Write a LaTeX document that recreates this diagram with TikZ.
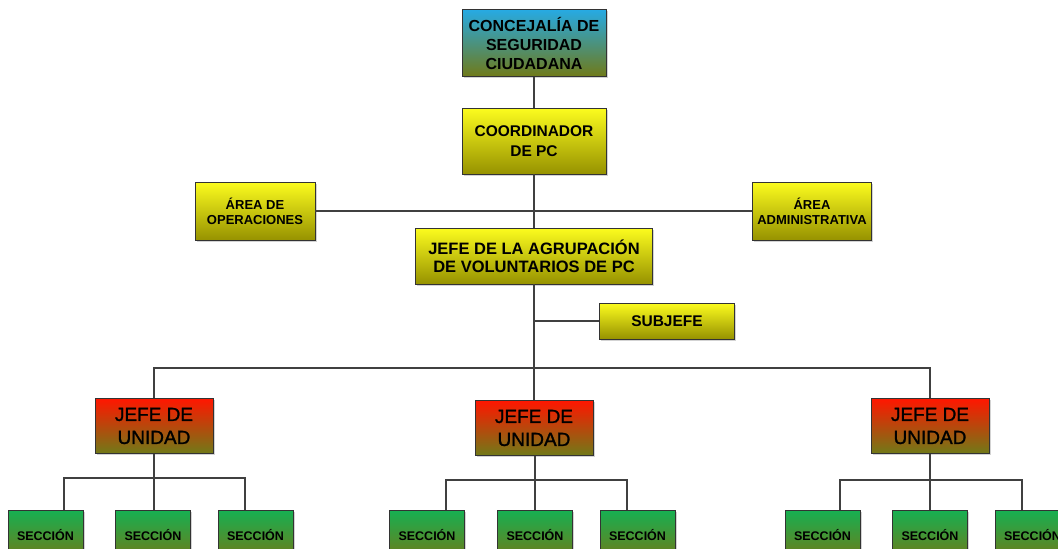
\documentclass[tikz,border=0pt]{standalone}
\usepackage{fontspec}
\setmainfont{Liberation Sans}
\newfontfamily\unitfont[FakeBold=1.3]{Liberation Sans}
\usetikzlibrary{shadows}

\definecolor{skyblue}{RGB}{38,170,228}
\definecolor{olive}{RGB}{112,122,24}
\definecolor{ylwtop}{RGB}{252,252,30}
\definecolor{ylwmid}{RGB}{236,234,0}
\definecolor{ylwbot}{RGB}{150,146,0}
\definecolor{redtop}{RGB}{255,22,0}
\definecolor{grntop}{RGB}{22,176,82}

\tikzset{
  box/.style={draw=black!80,line width=0.8pt,inner sep=2pt,align=center,
    drop shadow={shadow xshift=1.5pt,shadow yshift=-1.5pt,opacity=.35}},
  bluebox/.style={box,top color=skyblue,bottom color=olive},
  ylwbox/.style={box,top color=ylwtop,middle color=ylwmid,bottom color=ylwbot},
  redbox/.style={box,top color=redtop,bottom color=olive,
    minimum width=118pt,minimum height=55pt,font=\unitfont\fontsize{19}{23}\selectfont},
  grnbox/.style={box,top color=grntop,bottom color=olive,
    minimum width=75pt,minimum height=50pt,font=\bfseries\fontsize{12.5}{15}\selectfont},
  link/.style={draw=black!75,line width=1.2pt}
}

\begin{document}
\begin{tikzpicture}[x=1pt,y=-1pt]
  \useasboundingbox (0,0) rectangle (1058,549);

  \node[bluebox,minimum width=144pt,minimum height=67pt,font=\bfseries\fontsize{16}{19}\selectfont]
    (conc) at (534,43) {CONCEJALÍA DE\\SEGURIDAD\\CIUDADANA};
  \node[ylwbox,minimum width=144pt,minimum height=66pt,font=\bfseries\fontsize{15.5}{20}\selectfont]
    (coord) at (534,141) {COORDINADOR\\DE PC};
  \node[ylwbox,minimum width=120pt,minimum height=58pt,font=\bfseries\fontsize{13}{15}\selectfont]
    (oper) at (255,211) {ÁREA DE\\OPERACIONES};
  \node[ylwbox,minimum width=119pt,minimum height=58pt,font=\bfseries\fontsize{13}{15}\selectfont]
    (admin) at (812,211) {ÁREA\\ADMINISTRATIVA};
  \node[ylwbox,minimum width=237pt,minimum height=56pt,font=\bfseries\fontsize{16.5}{18}\selectfont]
    (jefe) at (534,256) {JEFE DE LA AGRUPACIÓN\\DE VOLUNTARIOS DE PC};
  \node[ylwbox,minimum width=135pt,minimum height=36pt,font=\bfseries\fontsize{15.5}{18}\selectfont]
    (subj) at (667,321) {SUBJEFE};

  \coordinate (bus) at (534,368);

  % unidades
  \node[redbox] (u1) at (154,426) {JEFE DE\\UNIDAD};
  \node[redbox] (u2) at (534,428) {JEFE DE\\UNIDAD};
  \node[redbox] (u3) at (930,426) {JEFE DE\\UNIDAD};

  % secciones
  \node[grnbox] (s11) at (45.5,535) {SECCIÓN};
  \node[grnbox] (s12) at (153,535) {SECCIÓN};
  \node[grnbox] (s13) at (255.5,535) {SECCIÓN};
  \node[grnbox] (s21) at (427,535) {SECCIÓN};
  \node[grnbox] (s22) at (535,535) {SECCIÓN};
  \node[grnbox] (s23) at (637.5,535) {SECCIÓN};
  \node[grnbox] (s31) at (822.5,535) {SECCIÓN};
  \node[grnbox] (s32) at (930,535) {SECCIÓN};
  \node[grnbox] (s33) at (1032.5,535) {SECCIÓN};

  \coordinate (b1) at (154,478);
  \coordinate (b2) at (535,480);
  \coordinate (b3) at (930,480);

  \path[link] (conc) -- (coord);
  \path[link] (coord) -- (jefe);
  \path[link] (oper) -- (admin);
  \path[link] (jefe.south) |- (subj.west);
  \path[link] (jefe.south) -- (bus);
  \path[link] (u1.north) |- (bus) -| (u3.north);
  \path[link] (bus) -- (u2.north);

  \path[link] (u1.south) -- (s12.north -| u1.south);
  \path[link] ([xshift=18.5pt]s11.north) |- (b1) -| ([xshift=-10.5pt]s13.north);
  \path[link] ([xshift=1pt]u2.south) -- (s22.north);
  \path[link] ([xshift=19pt]s21.north) |- (b2) -| ([xshift=-10.5pt]s23.north);
  \path[link] (u3.south) -- (s32.north);
  \path[link] ([xshift=17.5pt]s31.north) |- (b3) -| ([xshift=-10.5pt]s33.north);
\end{tikzpicture}
\end{document}
